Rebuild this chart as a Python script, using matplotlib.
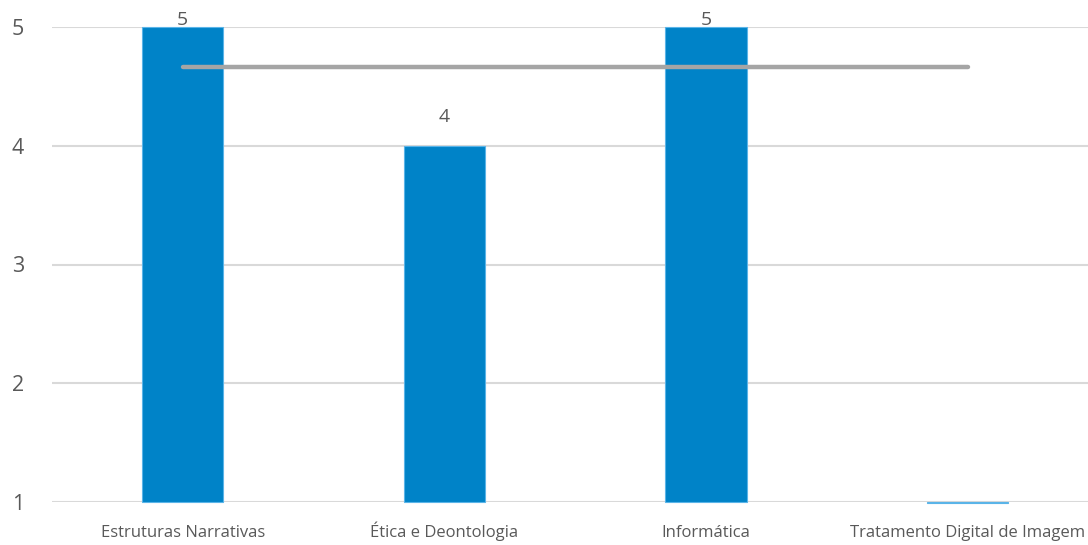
import matplotlib
matplotlib.use('Agg')
import matplotlib.pyplot as plt
import numpy as np

# dados do grafico
disciplinas = ['Estruturas Narrativas', 'Ética e Deontologia', 'Informática', 'Tratamento Digital de Imagem']
notas = [5, 4, 5, 1]
media = [14 / 3] * 4
yticks = [1, 2, 3, 4, 5]

plt.rcParams['font.family'] = ['Open Sans', 'DejaVu Sans']
cor_texto = '#595959'

fig = plt.figure(figsize=(10.88, 5.45), dpi=100)
ax = fig.add_axes([52 / 1088, 43 / 545, 1 - 52 / 1088, 475 / 545])

x = np.arange(len(disciplinas))
base = yticks[0]
# barra com valor igual a base: desenhar so um filete (como no Excel)
minimo = 0.012
alturas = [n - base if n > base else minimo for n in notas]
fundos = [base if n > base else base - minimo for n in notas]
barras = ax.bar(x, alturas, bottom=fundos, width=0.31,
                color='#0083C8', edgecolor='#5AB4E8', linewidth=0.8, zorder=3)
for b in barras:
    b.set_clip_on(False)
# o filete da ultima barra fica so com a cor da borda
for b, n in zip(barras, notas):
    if n <= base:
        b.set_facecolor('#5AB4E8')

# linha da media (so ate a ultima categoria)
ax.plot(x, media, color='#A5A5A5', linewidth=3.2, solid_capstyle='round', zorder=4)

# rotulos de dados
for xi, n in zip(x, notas):
    if n <= base:
        continue
    y_lab = min(n + 0.24, yticks[-1] + 0.06)
    ax.text(xi, y_lab, str(n), ha='center', va='center', fontsize=14,
            color=cor_texto, zorder=5, clip_on=False)

ax.set_xlim(-0.5, 3.46)
ax.set_ylim(yticks[0], yticks[-1])
ax.set_yticks(yticks)
ax.set_xticks(x)
ax.set_xticklabels(disciplinas)
ax.tick_params(axis='y', length=0, pad=20, labelsize=15.5, labelcolor=cor_texto)
ax.tick_params(axis='x', length=0, pad=25, labelsize=12, labelcolor=cor_texto)
for lbl in ax.get_xticklabels():
    lbl.set_verticalalignment('baseline')

ax.grid(axis='y', color='#D9D9D9', linewidth=1.5, zorder=0)
ax.set_axisbelow(True)
for s in ax.spines.values():
    s.set_visible(False)

fig.savefig('out.png', dpi=100)
